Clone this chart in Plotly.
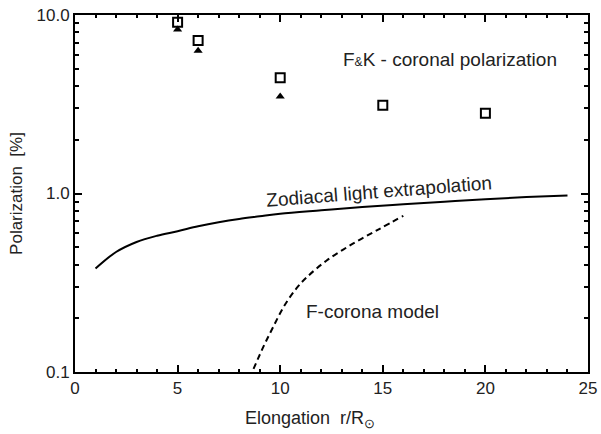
import plotly.graph_objects as go

# F & K coronal polarization measurements
fk_open_x = [5, 6, 10, 15, 20]
fk_open_y = [9.1, 7.2, 4.45, 3.12, 2.82]
fk_filled_x = [5, 6, 10]
fk_filled_y = [8.3, 6.3, 3.5]

# Zodiacal light extrapolation (solid)
zodi_x = [1, 2, 3, 4, 5, 6, 7, 8, 9, 10, 12, 14, 16, 18, 20, 22, 24]
zodi_y = [0.38, 0.47, 0.535, 0.58, 0.615, 0.655, 0.69, 0.72, 0.745, 0.77,
          0.805, 0.84, 0.87, 0.90, 0.93, 0.955, 0.975]

# F-corona model (dashed)
fcor_x = [8.7, 9.2, 9.65, 10.2, 10.8, 11.3, 12.25, 13.5, 14.8, 16]
fcor_y = [0.104, 0.14, 0.178, 0.235, 0.295, 0.34, 0.42, 0.52, 0.63, 0.75]

y_tickvals = [0.1, 1, 10]
y_ticktext = ["0.1", "1.0", "10.0"]

FONT = "Liberation Sans, Arial, sans-serif"
TXT = "#222"

fig = go.Figure()
fig.add_trace(go.Scatter(x=zodi_x, y=zodi_y, mode="lines",
                         line=dict(color="black", width=2, shape="spline")))
fig.add_trace(go.Scatter(x=fcor_x, y=fcor_y, mode="lines",
                         line=dict(color="black", width=2, dash="6px,4px", shape="spline")))
fig.add_trace(go.Scatter(x=fk_open_x, y=fk_open_y, mode="markers",
                         marker=dict(symbol="square-open", size=9, color="black",
                                     line=dict(width=2, color="black"))))
fig.add_trace(go.Scatter(x=fk_filled_x, y=fk_filled_y, mode="markers",
                         marker=dict(symbol="triangle-up", size=8, color="black")))

# plot area: x 75..588, y 15..372 px
def px(x):
    return (x - 75) / 513

def py(y):
    return (372 - y) / 357

fig.add_annotation(x=px(450), y=py(47), xref="paper", yref="paper", xanchor="center",
                   text="F<span style='font-size:12px'>&amp;</span>K - coronal polarization",
                   showarrow=False, font=dict(size=19, color=TXT))
fig.add_annotation(x=14.8, y=0.012, xref="x", yref="y", xanchor="center",
                   text="Zodiacal light extrapolation", textangle=-4.5,
                   showarrow=False, font=dict(size=19, color=TXT))
fig.add_annotation(x=px(372), y=py(324), xref="paper", yref="paper", xanchor="center",
                   text="F-corona model", showarrow=False,
                   font=dict(size=19, color=TXT))
fig.add_annotation(x=px(310), y=py(419), xref="paper", yref="paper", xanchor="center",
                   yanchor="middle", text="Elongation  r/R<sub>⊙</sub>", showarrow=False,
                   font=dict(size=18, color=TXT))

fig.update_layout(
    width=601, height=434,
    margin=dict(l=75, r=13, t=15, b=62),
    paper_bgcolor="white", plot_bgcolor="white",
    showlegend=False,
    font=dict(family=FONT, size=17, color=TXT),
    xaxis=dict(range=[0, 25], dtick=5, ticks="inside", ticklen=7, tickwidth=1.5,
               tickcolor="black", showline=True, linecolor="black", linewidth=2,
               mirror="ticks", showgrid=False, zeroline=False, automargin=False,
               ticklabeloverflow="allow",
               minor=dict(dtick=1, ticks="inside", ticklen=3, tickcolor="black")),
    yaxis=dict(type="log", range=[-1, 1], tickvals=y_tickvals, ticktext=y_ticktext,
               ticks="inside", ticklen=7, tickwidth=1.5, tickcolor="black",
               showline=True, linecolor="black", linewidth=2, mirror="ticks",
               showgrid=False, zeroline=False, automargin=False,
               ticklabeloverflow="allow",
               minor=dict(dtick="D1", ticks="inside", ticklen=4, tickcolor="black"),
               title=dict(text="Polarization  [%]", standoff=10, font=dict(size=17))),
)

# drop the default page margin so the figure fills the window
fig.write_html("out.html", config={"displayModeBar": False},
               post_script="document.body.style.margin='0px';")
